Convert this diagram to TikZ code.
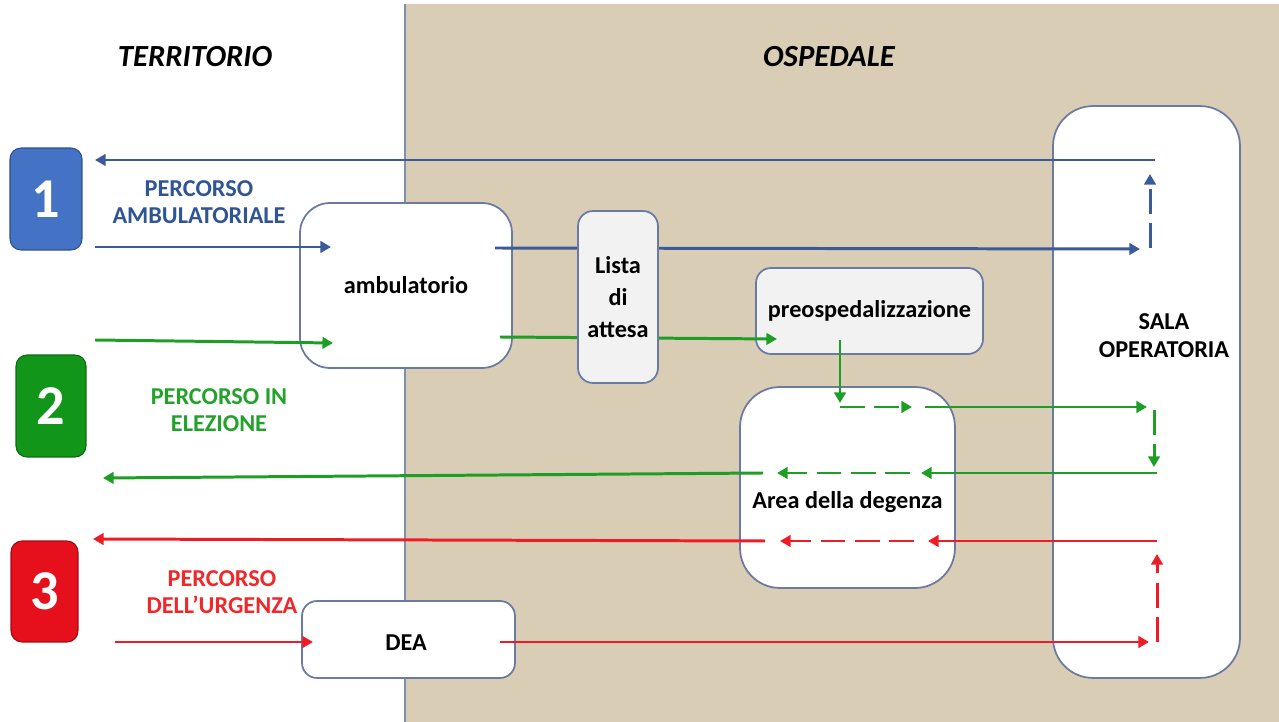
\documentclass[tikz,border=0pt]{standalone}
\usepackage{fontspec}
\setmainfont{Carlito}
\usetikzlibrary{arrows.meta}
\definecolor{beige}{HTML}{D9CDB6}
\definecolor{divider}{HTML}{7F8FB2}
\definecolor{bord}{HTML}{6A7BA3}
\definecolor{lblue}{HTML}{3A5A99}
\definecolor{lgreen}{HTML}{1F9E26}
\definecolor{lred}{HTML}{EE1C25}
\definecolor{tblue}{HTML}{2F5597}
\definecolor{tgreen}{HTML}{22A22A}
\definecolor{tred}{HTML}{F0282A}
\definecolor{nblue}{HTML}{4472C4}
\definecolor{ngreen}{HTML}{11961A}
\definecolor{nred}{HTML}{E5101C}
\definecolor{lgray}{HTML}{F2F2F2}
\begin{document}
\begin{tikzpicture}[x=0.02cm,y=-0.02cm,
  txt/.style={font=\fontsize{13.8}{16}\selectfont\bfseries, align=center},
  head/.style={font=\fontsize{17.5}{20}\selectfont\bfseries\itshape},
  numbox/.style={draw=#1!70!black, fill=#1, rounded corners=0.22cm, line width=0.6pt,
    text=white, font=\fontsize{32}{36}\selectfont\bfseries, inner sep=0pt},
  box/.style={draw=bord, line width=1pt, fill=white, inner sep=0pt, txt},
  conn/.style={line width=1.7pt, -{Triangle[length=6pt,width=6.5pt]}},
  dashline/.style={dash pattern=on 14pt off 5.5pt},
]
\useasboundingbox (0,0) rectangle (1279,722);
\fill[beige] (405,4) rectangle (1279,722);
\draw[divider, line width=1.2pt] (405,4) -- (405,722);

% headers
\node[head] (terr) at (195,57) {TERRITORIO};
\node[head] (osp) at (829,57) {OSPEDALE};

% number boxes
\node[numbox=nblue, minimum width=1.44cm, minimum height=2.04cm] (n1) at (46,199) {1};
\node[numbox=ngreen, minimum width=1.40cm, minimum height=2.04cm] (n2) at (51,406) {2};
\node[numbox=nred, minimum width=1.34cm, minimum height=2.02cm] (n3) at (44.5,591.5) {3};

% path labels
\node[txt, text=tblue, font=\fontsize{13.8}{15.4}\selectfont\bfseries] (l1) at (199,202) {PERCORSO\\AMBULATORIALE};
\node[txt, text=tgreen, font=\fontsize{13.8}{15.4}\selectfont\bfseries] (l2) at (219,410) {PERCORSO IN\\ELEZIONE};
\node[txt, text=tred, font=\fontsize{13.8}{15.4}\selectfont\bfseries] (l3) at (222,592) {PERCORSO\\DELL’URGENZA};

% boxes
\node[box, rounded corners=0.6cm, minimum width=4.24cm, minimum height=3.30cm] (amb) at (406,285.5) {ambulatorio};
\node[box, fill=lgray, rounded corners=0.3cm, minimum width=4.54cm, minimum height=1.72cm] (pre) at (869.5,311) {preospedalizzazione};
\node[box, rounded corners=0.8cm, minimum width=4.30cm, minimum height=4.02cm,
  label={[txt, yshift=-0.30cm]center:Area della degenza}] (area) at (847.5,487.5) {};
\node[box, rounded corners=0.8cm, minimum width=3.74cm, minimum height=11.44cm,
  label={[txt, xshift=0.35cm, yshift=1.12cm]center:SALA\\OPERATORIA}] (sala) at (1146.5,392) {};
\node[box, rounded corners=0.3cm, minimum width=4.26cm, minimum height=1.54cm] (dea) at (408.5,639.5) {};
\node[txt] (deatxt) at (406,643) {DEA};

% connector end points
\coordinate (b1s) at (1155,160); \coordinate (b1e) at (95,160);
\coordinate (b2s) at (95,247);   \coordinate (b2e) at (331,247);
\coordinate (b3s) at (495,248);  \coordinate (b3e) at (1140,249);
\coordinate (b4s) at (1150,248); \coordinate (b4e) at (1150,174);
\coordinate (g1s) at (95,340);   \coordinate (g1e) at (333,343);
\coordinate (g2s) at (500,337);  \coordinate (g2e) at (777,339);
\coordinate (g3s) at (840,340);  \coordinate (g3e) at (840,403);
\coordinate (g4s) at (840,407);  \coordinate (g4e) at (912,407);
\coordinate (g5s) at (925,407);  \coordinate (g5e) at (1147,407);
\coordinate (g6s) at (1154,410); \coordinate (g6e) at (1154,467);
\coordinate (g7s) at (1157,473); \coordinate (g7e) at (921,473);
\coordinate (g8s) at (910,473);  \coordinate (g8e) at (777,473);
\coordinate (g9s) at (763,473);  \coordinate (g9e) at (103,478);
\coordinate (r1s) at (1157,541); \coordinate (r1e) at (928,541);
\coordinate (r2s) at (914,541);  \coordinate (r2e) at (780,541);
\coordinate (r3s) at (765,541);  \coordinate (r3e) at (93,539);
\coordinate (r4s) at (115,642);  \coordinate (r4e) at (313,642);
\coordinate (r5s) at (500,642);  \coordinate (r5e) at (1149,642);
\coordinate (r6s) at (1157,642); \coordinate (r6e) at (1157,554);

% blue path
\draw[conn, lblue] (b1s) -- (b1e);
\draw[conn, lblue] (b2s) -- (b2e);
\draw[conn, lblue] (b3s) -- (b3e);
\draw[conn, lblue, dashline] (b4s) -- (b4e);
% green path
\draw[conn, lgreen] (g1s) -- (g1e);
\draw[conn, lgreen] (g2s) -- (g2e);
\draw[conn, lgreen] (g3s) -- (g3e);
\draw[conn, lgreen, dashline] (g4s) -- (g4e);
\draw[conn, lgreen] (g5s) -- (g5e);
\draw[conn, lgreen, dashline] (g6s) -- (g6e);
\draw[conn, lgreen] (g7s) -- (g7e);
\draw[conn, lgreen, dashline] (g8s) -- (g8e);
\draw[conn, lgreen] (g9s) -- (g9e);
% red path
\draw[conn, lred] (r1s) -- (r1e);
\draw[conn, lred, dashline] (r2s) -- (r2e);
\draw[conn, lred] (r3s) -- (r3e);
\draw[conn, lred] (r4s) -- (r4e);
\draw[conn, lred] (r5s) -- (r5e);
\draw[conn, lred, dashline] (r6s) -- (r6e);

% waiting list box on top of the lines
\node[box, fill=lgray, rounded corners=0.3cm, minimum width=1.60cm, minimum height=3.44cm,
  font=\fontsize{13.8}{18}\selectfont\bfseries] (lista) at (618,297) {Lista\\di\\attesa};
\end{tikzpicture}
\end{document}
